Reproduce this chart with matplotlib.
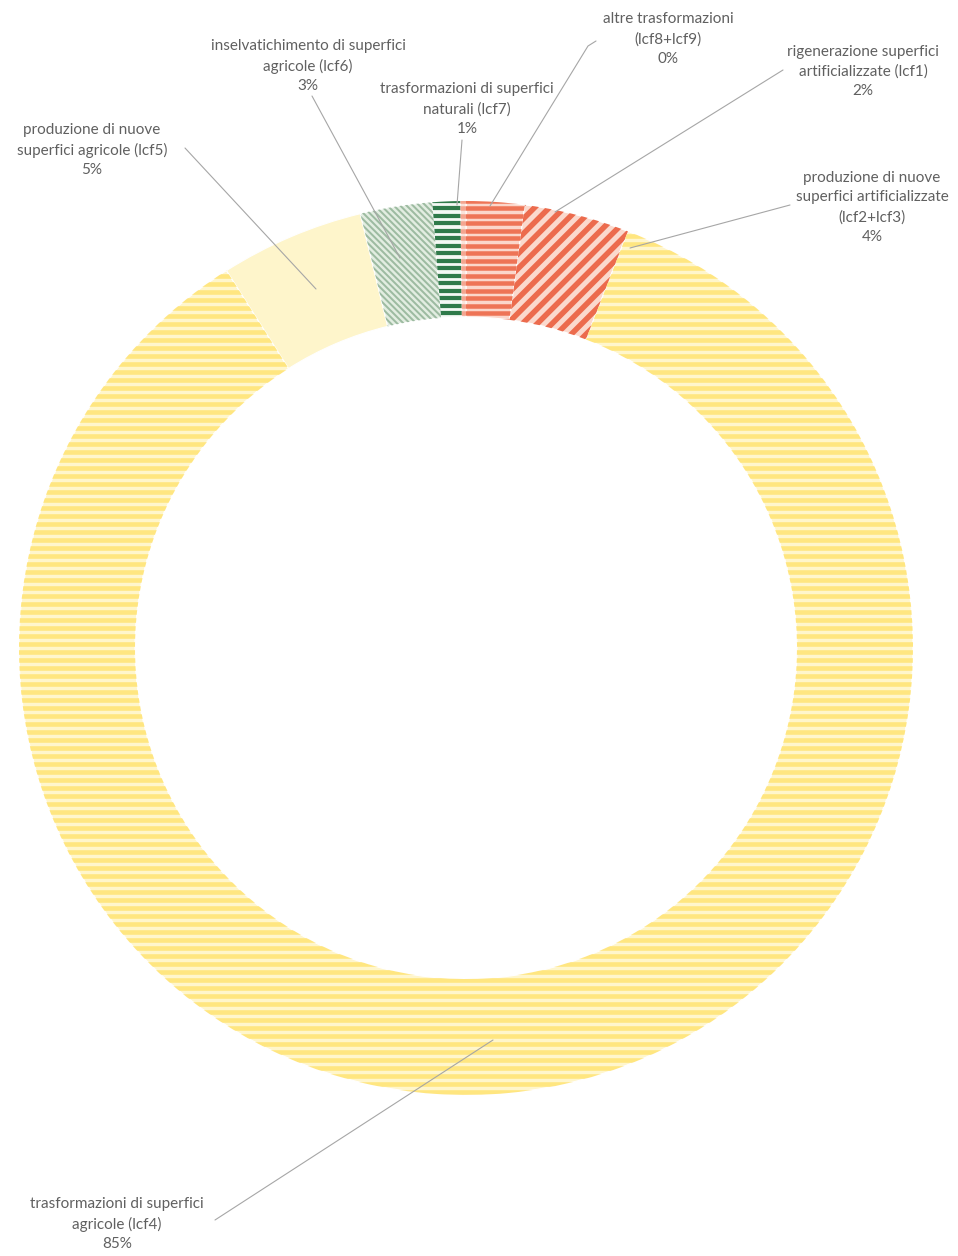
import numpy as np
import matplotlib
matplotlib.use("Agg")
import matplotlib.pyplot as plt
from matplotlib.collections import LineCollection

# ---------------- data ----------------
categories = [
    "rigenerazione superfici\nartificializzate (lcf1)",
    "produzione di nuove\nsuperfici artificializzate\n(lcf2+lcf3)",
    "trasformazioni di superfici\nagricole (lcf4)",
    "produzione di nuove\nsuperfici agricole (lcf5)",
    "inselvatichimento di superfici\nagricole (lcf6)",
    "trasformazioni di superfici\nnaturali (lcf7)",
    "altre trasformazioni\n(lcf8+lcf9)",
]
values = [2.1, 3.8, 85.1, 5.2, 2.6, 1.0, 0.2]

# ---------------- styles ----------------
W, H = 958, 1256
bg_colors = ["#FBD6CA", "#FBD9CD", "#FFF6CC", "#FEF5CB", "#E2EDE1", "#F4F8F4", "#FBE3DA"]
line_colors = ["#EE7456", "#EC6B4D", "#FFE680", None, "#9DBBA1", "#2F7A4A", "#F4A590"]
stripe_angle = [0, 45, 0, None, -45, 0, 0]          # degrees
stripe_period = [7.5, 10.5, 8.0, None, 4.5, 7.5, 7.5]  # px
stripe_width = [4.5, 5.5, 4.6, None, 2.0, 4.2, 4.5]    # px

label_pos = [(863, 71.5), (872, 207.5), (117, 1224), (92, 150),
             (308, 66), (467, 109), (668, 39)]
leaders = [
    [(783, 70), (555, 212)],
    [(790, 205), (630, 248)],
    [(215, 1220), (493, 1040)],
    [(185, 148), (316, 289)],
    [(312, 96), (400, 258)],
    [(462, 140), (457, 205)],
    [(596, 41), (588, 46), (490, 206)],
]

cx, cy = 466, H - 648
R_out, R_in = 447, 331

fig = plt.figure(figsize=(W / 100, H / 100), dpi=100)
ax = fig.add_axes([0, 0, 1, 1])

wedges, _ = ax.pie(values, radius=R_out, center=(cx, cy), startangle=90,
                   counterclock=False, colors=bg_colors,
                   wedgeprops=dict(width=R_out - R_in, edgecolor="white", linewidth=0.8),
                   frame=True)
ax.set_xlim(0, W)
ax.set_ylim(0, H)
ax.set_aspect("equal")
ax.axis("off")

pt = 72 / 100.0
for i, w in enumerate(wedges):
    if line_colors[i] is None:
        continue
    ang = np.deg2rad(stripe_angle[i])
    d = np.array([np.cos(ang), np.sin(ang)])
    n = np.array([-np.sin(ang), np.cos(ang)])
    L = 1800
    offs = np.arange(-1800, 1800, stripe_period[i])
    segs = []
    for o in offs:
        p = np.array([W / 2, H / 2]) + n * o
        segs.append([p - d * L, p + d * L])
    lc = LineCollection(segs, colors=line_colors[i], linewidths=stripe_width[i] * pt,
                        antialiased=True)
    ax.add_collection(lc)
    lc.set_clip_path(w)

# leader lines
for pts in leaders:
    xs = [p[0] for p in pts]
    ys = [H - p[1] for p in pts]
    ax.plot(xs, ys, color="#A6A6A6", lw=0.8, solid_capstyle="round")

# labels
for i, (x, y) in enumerate(label_pos):
    txt = f"{categories[i]}\n{round(values[i]):.0f}%"
    ax.text(x, H - y, txt, ha="center", va="center", fontsize=11,
            family=["Lato", "DejaVu Sans"], color="#606060", linespacing=1.5)

fig.savefig("out.png", dpi=100, facecolor="white")
